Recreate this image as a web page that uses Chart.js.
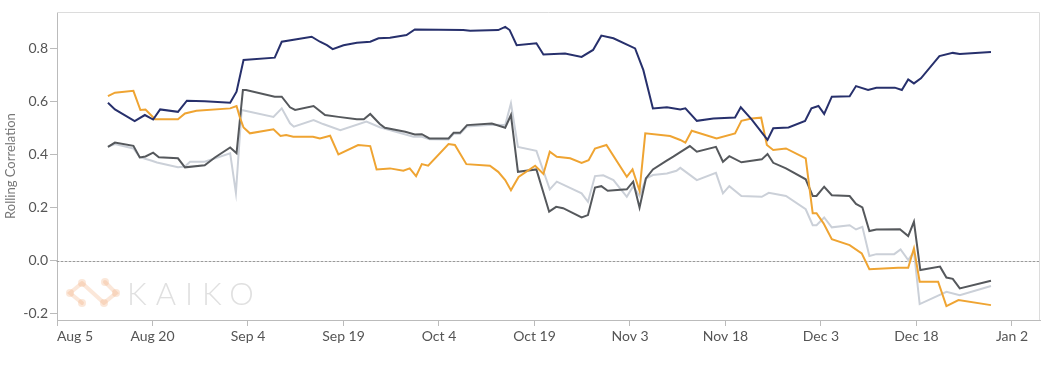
<!DOCTYPE html>
<html><head><meta charset="utf-8">
<script src="https://cdn.jsdelivr.net/npm/chart.js@4.4.1/dist/chart.umd.min.js"></script>
<style>html,body{margin:0;padding:0;background:#fff;}#wrap{width:1048px;height:375px;position:relative;}</style>
</head><body><div id="wrap"><canvas id="c"></canvas></div>
<script>
// x values are days since Aug 5
const tickDays = [0,15,30,45,60,75,90,105,120,135,150];
const tickLabels = ['Aug 5','Aug 20','Sep 4','Sep 19','Oct 4','Oct 19','Nov 3','Nov 18','Dec 3','Dec 18','Jan 2'];
const yTicks = [-0.2,0,0.2,0.4,0.6,0.8];
const xMin = 0, xMax = 154.4, yMin = -0.223, yMax = 0.937;

const navyPts = [[8,0.595],[9.1,0.570],[12.2,0.526],[13.8,0.549],[15.1,0.532],[16.2,0.570],[19,0.561],[20.4,0.603],[23.2,0.601],[27.2,0.595],[28.2,0.637],[29.3,0.756],[34.2,0.765],[35.3,0.825],[40,0.844],[41.3,0.825],[42.4,0.812],[43.3,0.797],[45,0.812],[47.1,0.821],[49.2,0.825],[50.5,0.838],[52.3,0.840],[54.9,0.850],[56.2,0.871],[63.8,0.869],[64.9,0.866],[69.3,0.869],[70.4,0.881],[71.1,0.869],[72.2,0.812],[75.3,0.819],[76.4,0.777],[79.8,0.781],[82.4,0.768],[84.2,0.794],[85.5,0.848],[87.4,0.838],[90.8,0.800],[92.1,0.718],[93.6,0.574],[95.8,0.578],[97.9,0.570],[98.7,0.574],[100.5,0.527],[103.1,0.536],[106.5,0.540],[107.4,0.578],[109.1,0.533],[111.6,0.455],[112.5,0.499],[114.9,0.502],[117.5,0.527],[118.5,0.574],[119.6,0.583],[120.5,0.553],[121.7,0.618],[124.5,0.620],[125.5,0.658],[127.4,0.643],[128.7,0.652],[131.6,0.652],[132.7,0.643],[133.7,0.683],[134.6,0.668],[135.7,0.687],[138.6,0.771],[140.7,0.783],[141.8,0.779],[146.7,0.786]];

const orangePts = [[8,0.620],[9.1,0.633],[12,0.640],[13.1,0.568],[13.9,0.570],[15.4,0.533],[19,0.533],[20.1,0.555],[21.9,0.565],[27.2,0.574],[28.2,0.583],[28.7,0.542],[29.3,0.502],[30.3,0.480],[34,0.495],[35.1,0.470],[36,0.474],[37.1,0.467],[40.2,0.467],[41.3,0.461],[42.9,0.471],[44.2,0.401],[47.3,0.436],[49.2,0.432],[50.2,0.344],[52.3,0.348],[54.4,0.339],[55.4,0.348],[56.4,0.319],[57.3,0.364],[58.3,0.358],[61.5,0.440],[62.5,0.436],[64.3,0.364],[68,0.358],[69.3,0.335],[70.4,0.304],[71.3,0.266],[72.5,0.316],[75.1,0.358],[76.4,0.327],[77.4,0.411],[78.5,0.392],[80.6,0.386],[82.4,0.369],[83.5,0.379],[84.5,0.423],[86.3,0.436],[89.5,0.316],[90.4,0.344],[91.5,0.264],[92.4,0.480],[96.3,0.470],[97.9,0.455],[98.7,0.445],[99.7,0.490],[103.6,0.461],[106.5,0.480],[107.5,0.527],[109.1,0.536],[110.6,0.539],[111.5,0.436],[112.5,0.417],[114.5,0.423],[117.6,0.386],[118.7,0.179],[119.3,0.179],[120.4,0.141],[121.7,0.081],[124.5,0.059],[126.4,0.028],[127.6,-0.032],[132.1,-0.026],[133.7,-0.026],[134.6,0.047],[135.5,-0.079],[138.4,-0.079],[139.7,-0.171],[141.6,-0.148],[146.7,-0.167]];

const darkPts = [[8,0.429],[9.1,0.445],[12,0.433],[13,0.389],[13.9,0.393],[15.1,0.407],[16,0.390],[19,0.386],[20.1,0.352],[23.2,0.360],[24.8,0.389],[27.2,0.427],[28.2,0.405],[29.2,0.643],[29.7,0.643],[34.2,0.618],[35.3,0.618],[36.6,0.578],[37.4,0.568],[40.3,0.583],[42.1,0.549],[44.2,0.542],[47.1,0.533],[48.2,0.533],[49.2,0.553],[50.7,0.515],[51.5,0.501],[54.7,0.486],[56.2,0.476],[57.3,0.477],[58.5,0.461],[61.5,0.461],[62.3,0.482],[63.3,0.482],[64.4,0.511],[68.3,0.517],[70.4,0.501],[71.3,0.549],[72.4,0.335],[75.3,0.344],[77.3,0.185],[78.4,0.203],[79.5,0.198],[82.4,0.163],[83.4,0.172],[84.5,0.276],[85.5,0.281],[86.5,0.264],[89.5,0.269],[90.5,0.298],[91.5,0.200],[92.5,0.310],[93.6,0.344],[95.7,0.376],[96.8,0.392],[97.9,0.409],[99.4,0.432],[100.5,0.411],[103.5,0.429],[104.6,0.373],[105.6,0.394],[107.5,0.371],[110.7,0.382],[111.6,0.402],[112.5,0.369],[114.5,0.348],[117.6,0.307],[118.7,0.244],[119.3,0.244],[120.5,0.279],[121.7,0.247],[124.5,0.244],[125.5,0.214],[126.5,0.201],[127.6,0.112],[128.7,0.118],[132.4,0.119],[133.7,0.093],[134.6,0.147],[135.6,-0.035],[138.7,-0.022],[139.7,-0.063],[140.7,-0.068],[141.8,-0.104],[146.7,-0.075]];

const lightPts = [[8,0.429],[9.1,0.440],[12,0.423],[13,0.390],[14.9,0.377],[15.7,0.370],[19,0.352],[20.1,0.355],[20.9,0.373],[23.2,0.373],[27.2,0.405],[28.1,0.256],[29,0.568],[34,0.542],[35.3,0.574],[36.6,0.518],[37.2,0.505],[40.3,0.530],[41.8,0.515],[44.5,0.492],[48.6,0.524],[50.7,0.503],[56,0.467],[57.3,0.467],[58.5,0.458],[61.5,0.457],[62.3,0.478],[63.3,0.478],[64.4,0.506],[68.3,0.512],[70.4,0.511],[71.3,0.593],[72.4,0.429],[75.3,0.414],[77.4,0.269],[78.5,0.298],[82.4,0.254],[83.4,0.222],[84.5,0.319],[85.8,0.322],[87.4,0.304],[89.5,0.241],[90.5,0.281],[91.5,0.244],[92.5,0.310],[93.6,0.323],[95.8,0.329],[97.3,0.339],[97.9,0.350],[100.5,0.304],[103.5,0.331],[104.6,0.254],[105.6,0.281],[107.5,0.244],[110.7,0.241],[111.8,0.256],[114.5,0.244],[117.6,0.194],[118.7,0.134],[119.3,0.134],[120.5,0.163],[121.7,0.126],[124.5,0.134],[125.5,0.118],[126.5,0.128],[127.6,0.018],[128.7,0.025],[131.5,0.025],[132.5,0.043],[133.7,0.003],[134.6,0.035],[135.5,-0.163],[139.7,-0.117],[141.8,-0.130],[146.7,-0.095]];

const toXY = pts => pts.map(p => ({x: p[0], y: p[1]}));

const decor = {
  id: 'decor',
  beforeDatasetsDraw(chart) {
    const {ctx, chartArea: a, scales: {y}} = chart;
    ctx.save();
    ctx.strokeStyle = 'rgba(240,170,120,0.28)';
    ctx.fillStyle = 'rgba(240,170,120,0.28)';
    ctx.lineWidth = 4;
    ctx.lineCap = 'round';
    const L = a.left;
    const pts = [[L+25,283],[L+13,293],[L+25,303],[L+48,282],[L+59,293],[L+47,303]];
    ctx.beginPath();
    ctx.moveTo(pts[0][0],pts[0][1]); ctx.lineTo(pts[1][0],pts[1][1]); ctx.lineTo(pts[2][0],pts[2][1]);
    ctx.moveTo(pts[3][0],pts[3][1]); ctx.lineTo(pts[4][0],pts[4][1]); ctx.lineTo(pts[5][0],pts[5][1]);
    ctx.moveTo(pts[0][0],pts[0][1]); ctx.lineTo(pts[5][0],pts[5][1]);
    ctx.stroke();
    pts.forEach(p => { ctx.beginPath(); ctx.arc(p[0],p[1],4,0,Math.PI*2); ctx.fill(); });
    ctx.fillStyle = '#e0e0e0';
    ctx.font = '300 31px Lato';
    try { ctx.letterSpacing = '9px'; } catch(e) {}
    ctx.textBaseline = 'alphabetic';
    ctx.fillText('KAIKO', L + 70, 305);
    try { ctx.letterSpacing = '0px'; } catch(e) {}
    const y0 = Math.round(y.getPixelForValue(0)) + 0.5;
    ctx.strokeStyle = '#9a9a9a';
    ctx.lineWidth = 1;
    ctx.setLineDash([2,2]);
    ctx.beginPath(); ctx.moveTo(a.left, y0); ctx.lineTo(a.right, y0); ctx.stroke();
    ctx.restore();
  },
  afterDraw(chart) {
    const {ctx, chartArea: a} = chart;
    ctx.save();
    ctx.strokeStyle = '#dcdcdc';
    ctx.lineWidth = 1;
    ctx.beginPath();
    ctx.moveTo(a.left, a.top + 0.5); ctx.lineTo(a.right - 0.5, a.top + 0.5); ctx.lineTo(a.right - 0.5, a.bottom);
    ctx.stroke();
    ctx.restore();
  }
};

const lineDs = (label, pts, color) => ({
  label, data: toXY(pts), borderColor: color, backgroundColor: color,
  borderWidth: 2, pointRadius: 0, tension: 0, fill: false
});

new Chart(document.getElementById('c'), {
  type: 'line',
  data: {
    datasets: [
      lineDs('Series A', navyPts, '#27306c'),
      lineDs('Series B', orangePts, '#efa432'),
      lineDs('Series C', darkPts, '#55585c'),
      lineDs('Series D', lightPts, '#cbd0d8')
    ]
  },
  options: {
    responsive: true, maintainAspectRatio: false, animation: false,
    layout: {padding: {top: 12, right: 8, left: 0, bottom: 0}},
    plugins: {legend: {display: false}, tooltip: {enabled: false}},
    scales: {
      x: {
        type: 'linear', min: xMin, max: xMax,
        afterBuildTicks: s => { s.ticks = tickDays.map(v => ({value: v})).concat([{value: xMax}]); },
        afterFit: s => { s.height = 55; },
        ticks: {
          callback: (v, i) => tickLabels[i] !== undefined ? tickLabels[i] : '',
          align: 'inner', autoSkip: false, maxRotation: 0, color: '#555',
          font: {family: 'Lato', size: 14}, padding: 2
        },
        grid: {drawOnChartArea: false, tickLength: 6, color: c => (c.index === tickDays.length ? 'rgba(0,0,0,0)' : '#bbb')},
        border: {color: '#bbb'}
      },
      y: {
        min: yMin, max: yMax,
        afterBuildTicks: s => { s.ticks = yTicks.map(v => ({value: v})); },
        afterFit: s => { s.width = 57; },
        ticks: {callback: v => v.toFixed(1), color: '#555', font: {family: 'Lato', size: 14}, padding: 2},
        grid: {drawOnChartArea: false, tickLength: 7, color: '#bbb'},
        border: {color: '#bbb'},
        title: {display: true, text: 'Rolling Correlation', color: '#777', font: {family: 'Lato', size: 13}, padding: {top: 3, bottom: 0}}
      }
    }
  },
  plugins: [decor]
});
</script>
</body></html>
